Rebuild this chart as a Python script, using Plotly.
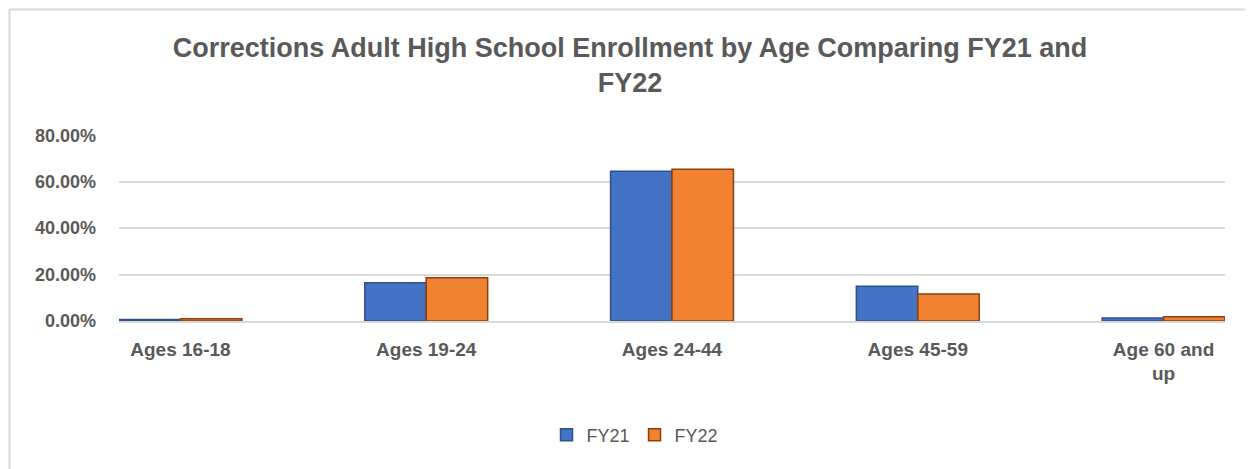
import plotly.graph_objects as go

categories = ["Ages 16-18", "Ages 19-24", "Ages 24-44", "Ages 45-59", "Age 60 and<br>up"]
fy21 = [0.007, 0.165, 0.645, 0.150, 0.013]
fy22 = [0.010, 0.186, 0.654, 0.116, 0.018]
y_ticks = [0, 0.2, 0.4, 0.6, 0.8]
y_tick_labels = ["0.00%", "20.00%", "40.00%", "60.00%", "80.00%"]

FONT = "Liberation Sans"
GRAY = "#595959"
OFF = 8  # page body margin

W, H = 1253, 469
# plot area in page pixels
PL, PR, PT, PB = 119, 1225, 135, 321
L = PL - OFF
T = PT - OFF
R = W - (PR - OFF)
B = H - (PB - OFF)
pw, ph = PR - PL, PB - PT

def px_x(px):
    return (px - PL) / pw

def px_y(py):
    return (PB - py) / ph

fig = go.Figure()
fig.add_trace(go.Bar(
    name="FY21", x=list(range(len(categories))), y=fy21,
    marker=dict(color="#4472C4", line=dict(color="#2F528F", width=1.5)),
))
fig.add_trace(go.Bar(
    name="FY22", x=list(range(len(categories))), y=fy22,
    marker=dict(color="#F08232", line=dict(color="#8B3F0E", width=1.5)),
))

fig.update_layout(
    width=W, height=H,
    margin=dict(l=L, r=R, t=T, b=B),
    paper_bgcolor="white", plot_bgcolor="white",
    barmode="group", bargap=0.5, bargroupgap=0,
    font=dict(family=FONT, color=GRAY),
    title=dict(
        text="<b>Corrections Adult High School Enrollment by Age Comparing FY21 and<br>FY22</b>",
        xref="container", x=(630 - OFF) / W, xanchor="center",
        yref="container", y=1 - (57 - OFF) / H, yanchor="middle",
        font=dict(family=FONT, size=27, color=GRAY),
    ),
    xaxis=dict(
        range=[-0.25, 4.25],
        tickmode="array", tickvals=list(range(len(categories))),
        ticktext=["<b>%s</b>" % c for c in categories],
        tickfont=dict(family=FONT, size=19, color=GRAY),
        showgrid=False, showline=True, linecolor="#D9D9D9", linewidth=1.5,
        ticks="", zeroline=False, ticklabelstandoff=10,
    ),
    yaxis=dict(
        range=[0, 0.8015],
        tickmode="array", tickvals=y_ticks,
        ticktext=["<b>%s</b>" % t for t in y_tick_labels],
        tickfont=dict(family=FONT, size=18, color=GRAY),
        showgrid=True, gridcolor="#D9D9D9", gridwidth=1.5,
        zeroline=False, ticks="", ticklabelstandoff=22,
    ),
    legend=dict(
        orientation="h", x=px_x(635), xanchor="center",
        y=px_y(435), yanchor="middle",
        font=dict(family=FONT, size=18, color=GRAY),
        itemwidth=30, traceorder="normal",
    ),
    shapes=[dict(
        type="rect", xref="paper", yref="paper",
        x0=px_x(9.5), x1=px_x(1275), y0=px_y(490), y1=px_y(9.5),
        line=dict(color="#D9D9D9", width=2), fillcolor="rgba(0,0,0,0)",
        layer="below",
    )],
)

fig.write_html("out.html")
